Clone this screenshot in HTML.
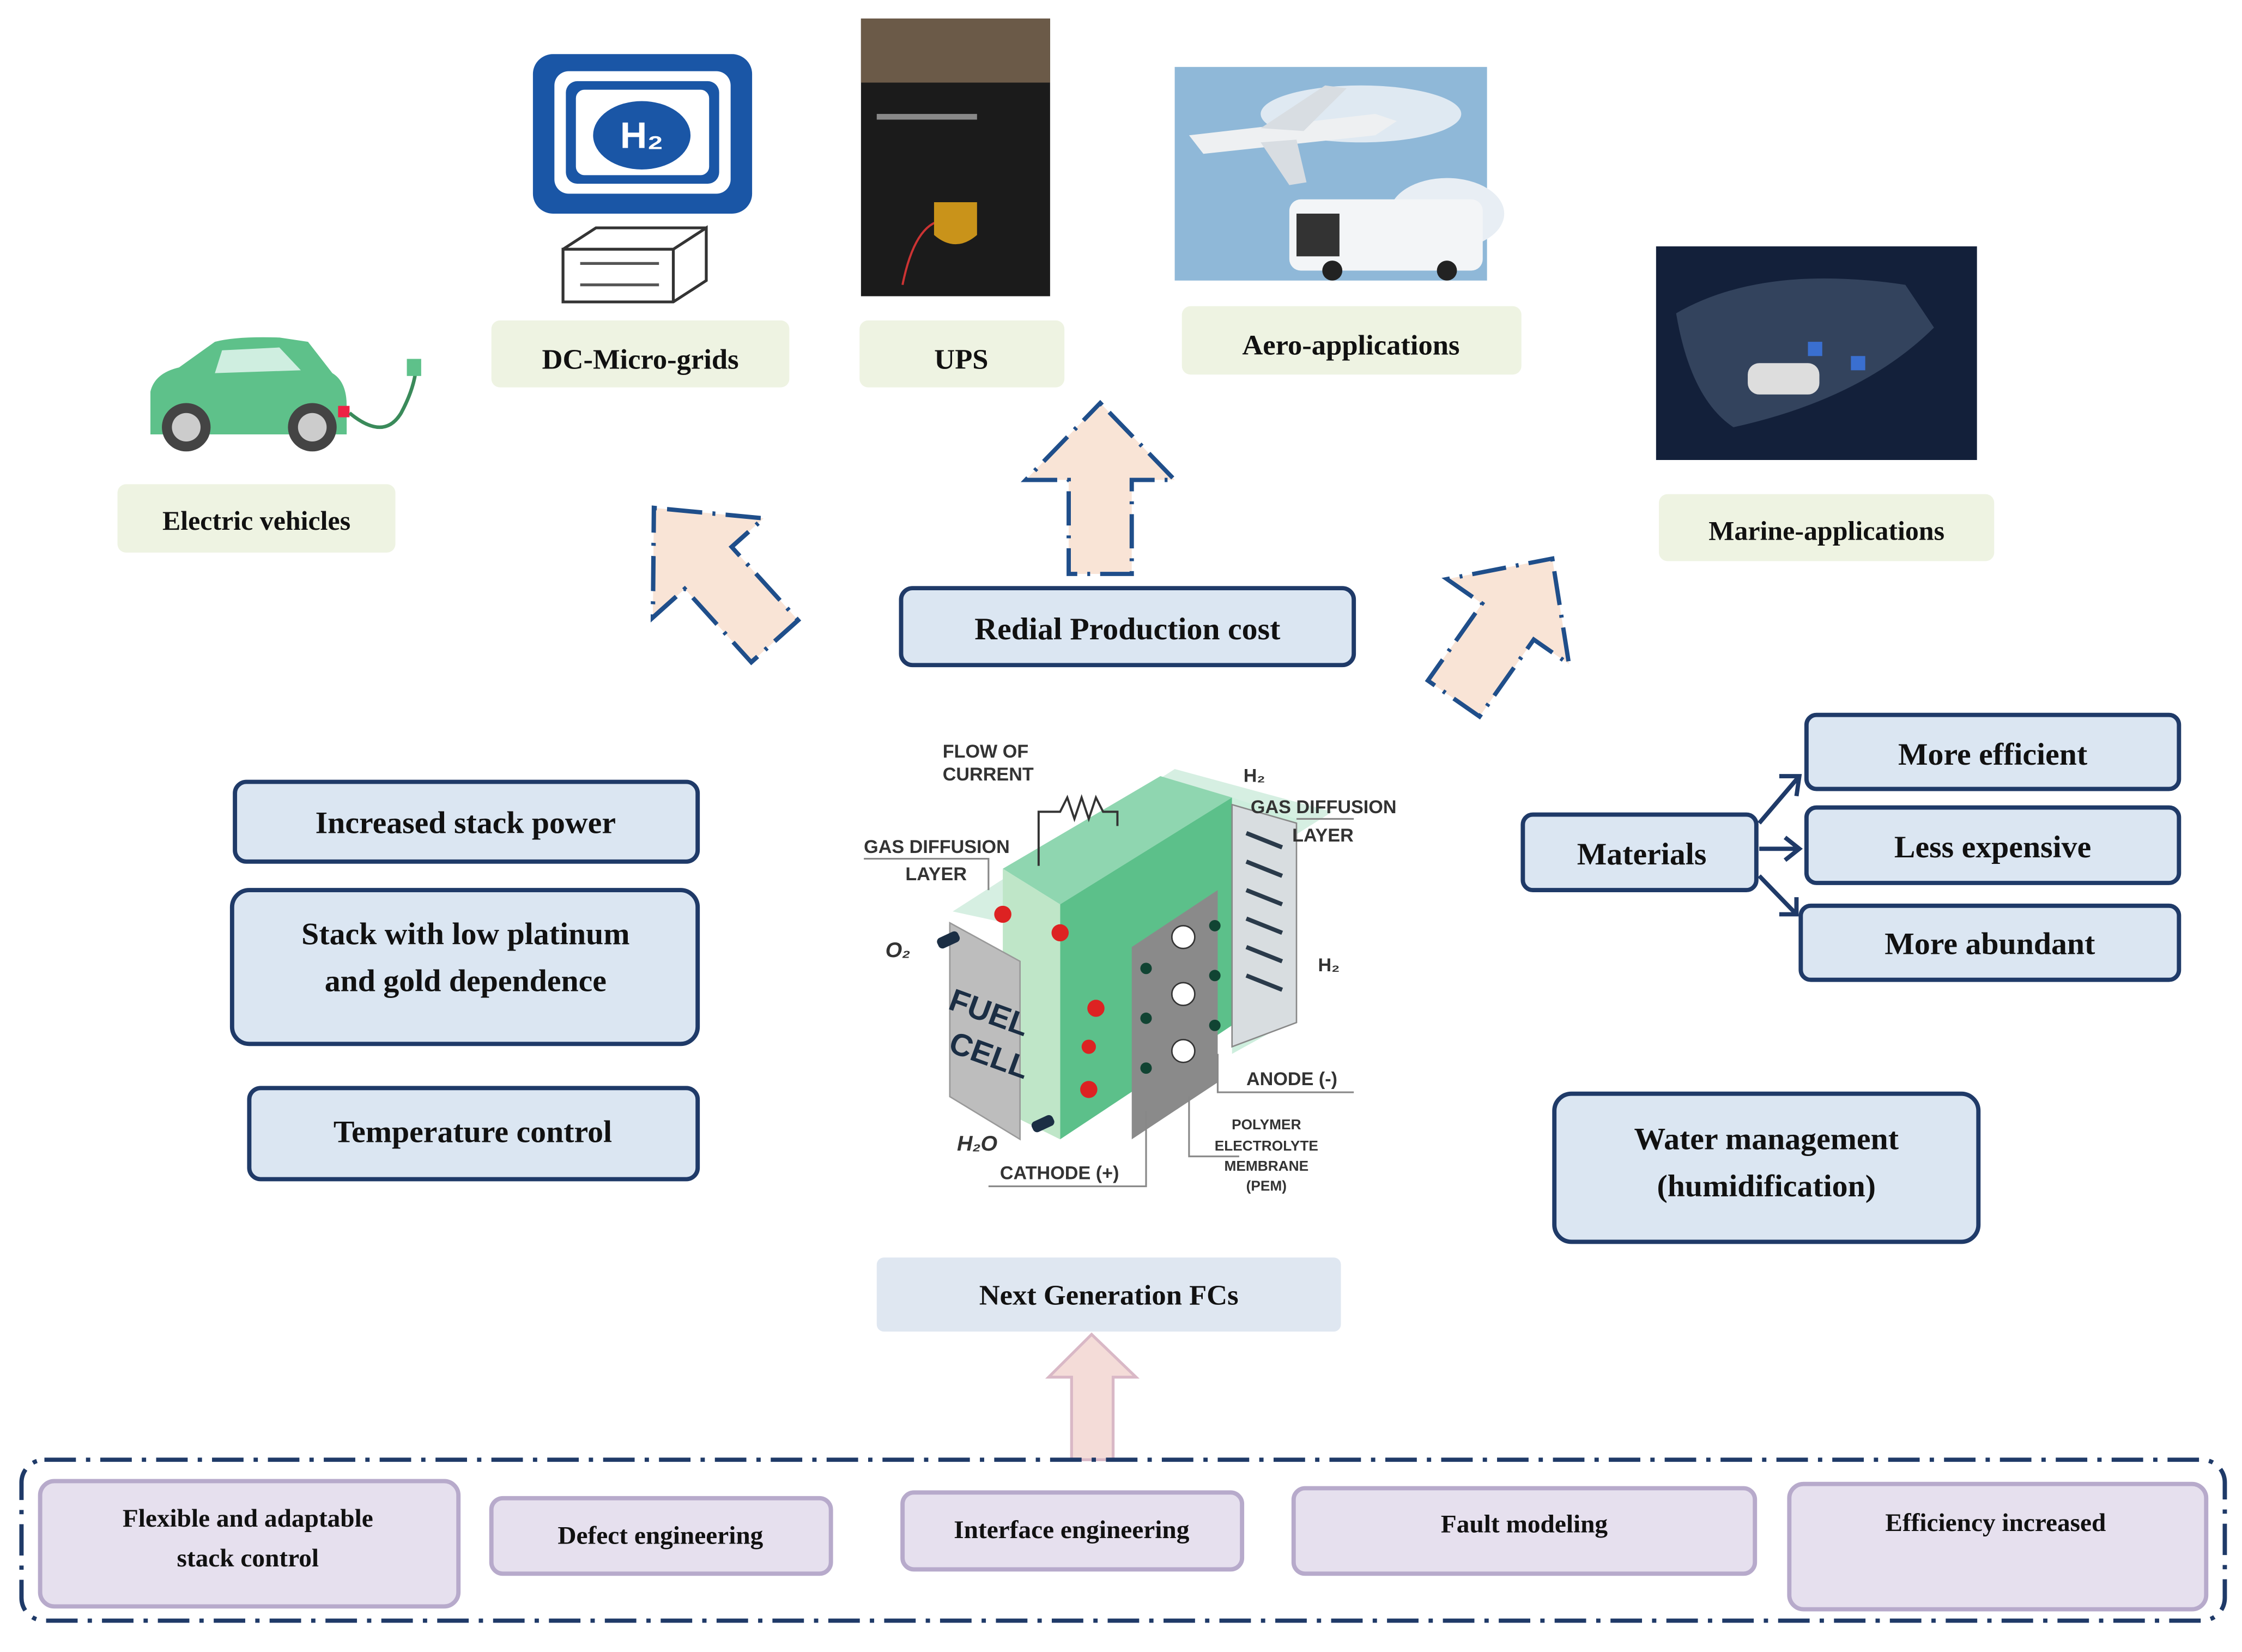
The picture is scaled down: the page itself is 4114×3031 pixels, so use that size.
<!DOCTYPE html>
<html><head><meta charset="utf-8"><style>
html,body{margin:0;padding:0;background:#fff}
svg{display:block}
text{font-family:"Liberation Serif",serif;font-weight:bold;fill:#111}
.s{font-family:"Liberation Sans",sans-serif;font-weight:bold;fill:#333}
</style></head><body>
<svg width="4114" height="3031" viewBox="0 0 1565 1160" preserveAspectRatio="none" xmlns="http://www.w3.org/2000/svg">
<rect width="1565" height="1160" fill="#fff"/>
<defs>
<polygon id="arr" points="0,-62 52,-8 22,-8 22,58 -22,58 -22,-8 -52,-8"/>
</defs>

<!-- car -->
<g>
<path d="M105,300 L105,275 Q108,262 125,258 L150,240 Q165,236 195,237 L215,240 L232,262 Q242,268 242,285 L242,305 L105,305 Z" fill="#5ec18a"/>
<path d="M155,246 L195,244 L210,260 L150,262 Z" fill="#cfeee0"/>
<circle cx="130" cy="300" r="17" fill="#444"/><circle cx="130" cy="300" r="10" fill="#ccc"/>
<circle cx="218" cy="300" r="17" fill="#444"/><circle cx="218" cy="300" r="10" fill="#ccc"/>
<rect x="236" y="285" width="8" height="8" fill="#e24"/>
<path d="M244,290 Q268,310 280,290 Q288,275 290,262" stroke="#3a8a5a" stroke-width="2.5" fill="none"/>
<rect x="284" y="252" width="10" height="12" fill="#5ec18a"/>
</g>
<rect x="82" y="340" width="194" height="48" rx="6" fill="#eef3e2"/>
<text x="179" y="372" font-size="19" text-anchor="middle">Electric vehicles</text>

<!-- H2 monitor -->
<rect x="372" y="38" width="153" height="112" rx="14" fill="#1a56a6"/>
<rect x="387" y="50" width="123" height="86" rx="10" fill="#fff"/>
<rect x="395" y="57" width="107" height="72" rx="8" fill="#1a56a6"/>
<rect x="402" y="63" width="93" height="60" rx="6" fill="#fff"/>
<ellipse cx="448" cy="95" rx="34" ry="24" fill="#1a56a6"/>
<text x="448" y="104" font-size="26" fill="#fff" text-anchor="middle" style="fill:#fff;font-family:'Liberation Sans',sans-serif">H₂</text>
<path d="M393,175 L470,175 L493,160 L493,197 L470,212 L393,212 Z" fill="#fff" stroke="#333" stroke-width="2"/>
<path d="M393,175 L416,160 L493,160" fill="none" stroke="#333" stroke-width="2"/>
<line x1="470" y1="175" x2="470" y2="212" stroke="#333" stroke-width="2"/>
<line x1="405" y1="185" x2="460" y2="185" stroke="#555" stroke-width="2"/>
<line x1="405" y1="200" x2="460" y2="200" stroke="#555" stroke-width="2"/>
<rect x="343" y="225" width="208" height="47" rx="6" fill="#eef3e2"/>
<text x="447" y="259" font-size="20" text-anchor="middle">DC-Micro-grids</text>

<!-- UPS -->
<rect x="601" y="13" width="132" height="195" fill="#1b1b1b"/>
<rect x="601" y="13" width="132" height="45" fill="#6b5a48"/>
<rect x="612" y="80" width="70" height="4" fill="#888"/>
<path d="M630,200 Q640,150 665,155" stroke="#c33" stroke-width="1.5" fill="none"/>
<path d="M652,142 L682,142 L682,165 Q667,178 652,165 Z" fill="#c9931a"/>
<rect x="600" y="225" width="143" height="47" rx="6" fill="#eef3e2"/>
<text x="671" y="259" font-size="20" text-anchor="middle">UPS</text>

<!-- Aero -->
<rect x="820" y="47" width="218" height="150" fill="#8fb8d8"/>
<ellipse cx="950" cy="80" rx="70" ry="20" fill="#dfe9f2"/>
<ellipse cx="1010" cy="150" rx="40" ry="25" fill="#e8eef4"/>
<path d="M830,95 L960,80 L975,85 L960,95 L840,108 Z" fill="#eef0f2"/>
<path d="M880,90 L925,60 L940,62 L910,92 Z" fill="#d8dde2"/>
<path d="M880,100 L900,130 L912,128 L905,98 Z" fill="#d8dde2"/>
<rect x="900" y="140" width="135" height="50" rx="8" fill="#f3f5f7"/>
<rect x="905" y="150" width="30" height="30" fill="#333"/>
<circle cx="930" cy="190" r="7" fill="#222"/><circle cx="1010" cy="190" r="7" fill="#222"/>
<rect x="825" y="215" width="237" height="48" rx="6" fill="#eef3e2"/>
<text x="943" y="249" font-size="20" text-anchor="middle">Aero-applications</text>

<!-- Marine -->
<rect x="1156" y="173" width="224" height="150" fill="#13203a"/>
<path d="M1170,220 Q1230,185 1330,200 L1350,230 Q1300,280 1210,300 Q1180,280 1170,220 Z" fill="#3c4c66" opacity="0.8"/>
<rect x="1220" y="255" width="50" height="22" rx="8" fill="#ddd"/>
<rect x="1262" y="240" width="10" height="10" fill="#3a6fd0"/><rect x="1292" y="250" width="10" height="10" fill="#3a6fd0"/>
<rect x="1158" y="347" width="234" height="47" rx="6" fill="#eef3e2"/>
<text x="1275" y="379" font-size="19" text-anchor="middle">Marine-applications</text>

<!-- arrows -->
<g fill="#f9e4d6" stroke="#1f4e8a" stroke-width="3" stroke-dasharray="2 7 24 7">
<use href="#arr" transform="translate(500,405) rotate(-42) scale(1,1.05)"/>
<use href="#arr" transform="translate(768,345)"/>
<use href="#arr" transform="translate(1048,443) rotate(35)"/>
</g>

<!-- center top box -->
<rect x="629" y="413" width="316" height="54" rx="8" fill="#dbe6f2" stroke="#1f3a68" stroke-width="3"/>
<text x="787" y="449" font-size="22" text-anchor="middle">Redial Production cost</text>

<!-- left boxes -->
<g fill="#dbe6f2" stroke="#1f3a68" stroke-width="3">
<rect x="164" y="549" width="323" height="56" rx="8"/>
<rect x="162" y="625" width="325" height="108" rx="12"/>
<rect x="174" y="764" width="313" height="64" rx="8"/>
<rect x="1063" y="572" width="163" height="53" rx="7"/>
<rect x="1261" y="502" width="260" height="52" rx="7"/>
<rect x="1261" y="567" width="260" height="53" rx="7"/>
<rect x="1257" y="636" width="264" height="52" rx="7"/>
<rect x="1085" y="768" width="296" height="104" rx="12"/>
</g>
<text x="325" y="585" font-size="22" text-anchor="middle">Increased stack power</text>
<text x="325" y="663" font-size="22" text-anchor="middle">Stack with low platinum</text>
<text x="325" y="696" font-size="22" text-anchor="middle">and gold dependence</text>
<text x="330" y="802" font-size="22" text-anchor="middle">Temperature control</text>
<text x="1146" y="607" font-size="22" text-anchor="middle">Materials</text>
<text x="1391" y="537" font-size="22" text-anchor="middle">More efficient</text>
<text x="1391" y="602" font-size="22" text-anchor="middle">Less expensive</text>
<text x="1389" y="670" font-size="22" text-anchor="middle">More abundant</text>
<text x="1233" y="807" font-size="22" text-anchor="middle">Water management</text>
<text x="1233" y="840" font-size="22" text-anchor="middle">(humidification)</text>
<g stroke="#1f3a68" stroke-width="3" fill="none">
<path d="M1228,578 L1256,545"/><path d="M1242,545 L1256,545 L1254,559"/>
<path d="M1228,596 L1256,596"/><path d="M1246,588 L1256,596 L1246,604"/>
<path d="M1228,615 L1254,642"/><path d="M1254,630 L1254,642 L1242,642"/>
</g>

<!-- fuel cell -->
<g>
<polygon points="665,640 820,540 930,570 780,665" fill="#d6efe2"/>
<polygon points="700,610 810,545 860,560 740,635" fill="#8fd6b0"/>
<polygon points="740,635 860,560 860,720 740,800" fill="#5cc08a"/>
<polygon points="790,665 850,625 850,760 790,800" fill="#8a8a8a"/>
<polygon points="700,610 740,635 740,800 700,780" fill="#bfe6c8"/>
<polygon points="860,560 905,575 905,715 860,740" fill="#cdeedd"/>
<polygon points="860,565 905,578 905,718 860,735" fill="#d8dde0" stroke="#888"/>
<g stroke="#2a3a4a" stroke-width="3">
<line x1="870" y1="585" x2="895" y2="595"/><line x1="870" y1="605" x2="895" y2="615"/><line x1="870" y1="625" x2="895" y2="635"/>
<line x1="870" y1="645" x2="895" y2="655"/><line x1="870" y1="665" x2="895" y2="675"/><line x1="870" y1="685" x2="895" y2="695"/>
</g>
<polygon points="663,648 712,675 712,800 663,770" fill="#bdbdbd" stroke="#999"/>
<text x="688" y="718" font-size="22" class="s" transform="rotate(20 688 718)" style="fill:#1b2e44" text-anchor="middle">FUEL</text>
<text x="688" y="748" font-size="22" class="s" transform="rotate(20 688 748)" style="fill:#1b2e44" text-anchor="middle">CELL</text>
<g fill="#d22">
<circle cx="700" cy="642" r="6"/><circle cx="740" cy="655" r="6"/><circle cx="765" cy="708" r="6"/><circle cx="760" cy="765" r="6"/><circle cx="760" cy="735" r="5"/>
</g>
<g fill="#143" ><circle cx="800" cy="680" r="4"/><circle cx="800" cy="715" r="4"/><circle cx="800" cy="750" r="4"/><circle cx="848" cy="650" r="4"/><circle cx="848" cy="685" r="4"/><circle cx="848" cy="720" r="4"/></g>
<g fill="#fff" stroke="#333"><circle cx="826" cy="658" r="8"/><circle cx="826" cy="698" r="8"/><circle cx="826" cy="738" r="8"/></g>
<rect x="654" y="656" width="16" height="8" rx="3" fill="#1b2e44" transform="rotate(-25 662 660)"/>
<rect x="720" y="785" width="16" height="8" rx="3" fill="#1b2e44" transform="rotate(-25 728 789)"/>
<path d="M725,608 L725,570 L740,570 L745,560 L750,575 L755,560 L760,575 L765,560 L770,570 L780,570 L780,580" stroke="#333" stroke-width="1.5" fill="none"/>
<text x="658" y="532" font-size="13" class="s">FLOW OF</text>
<text x="658" y="548" font-size="13" class="s">CURRENT</text>
<text x="603" y="599" font-size="13" class="s">GAS DIFFUSION</text>
<text x="632" y="618" font-size="13" class="s">LAYER</text>
<text x="873" y="571" font-size="13" class="s">GAS DIFFUSION</text>
<text x="902" y="591" font-size="13" class="s">LAYER</text>
<text x="868" y="549" font-size="13" class="s">H₂</text>
<text x="920" y="682" font-size="13" class="s">H₂</text>
<text x="618" y="672" font-size="15" class="s" font-style="italic">O₂</text>
<text x="668" y="808" font-size="15" class="s" font-style="italic">H₂O</text>
<text x="870" y="762" font-size="13" class="s">ANODE (-)</text>
<text x="698" y="828" font-size="13" class="s">CATHODE (+)</text>
<text x="884" y="793" font-size="10" class="s" text-anchor="middle">POLYMER</text>
<text x="884" y="808" font-size="10" class="s" text-anchor="middle">ELECTROLYTE</text>
<text x="884" y="822" font-size="10" class="s" text-anchor="middle">MEMBRANE</text>
<text x="884" y="836" font-size="10" class="s" text-anchor="middle">(PEM)</text>
<g stroke="#888" stroke-width="1.2" fill="none">
<path d="M603,603 L690,603 L690,625"/><path d="M945,575 L905,575"/><path d="M850,740 L850,767 L945,767"/><path d="M830,770 L830,812 L865,812"/><path d="M800,780 L800,833 L690,833"/>
</g>
</g>

<!-- Next gen -->
<rect x="612" y="883" width="324" height="52" rx="5" fill="#dfe7f1"/>
<text x="774" y="916" font-size="20" text-anchor="middle">Next Generation FCs</text>
<polygon points="762,937 793,967 777,967 777,1025 748,1025 748,967 732,967" fill="#f4dcd8" stroke="#d9b8c6" stroke-width="2"/>

<!-- bottom -->
<rect x="15" y="1025" width="1538" height="113" rx="16" fill="none" stroke="#1f3a68" stroke-width="3" stroke-dasharray="22 7 3 7"/>
<g fill="#e6e0ee" stroke="#b7aacb" stroke-width="3">
<rect x="28" y="1040" width="292" height="88" rx="10"/>
<rect x="343" y="1052" width="237" height="53" rx="8"/>
<rect x="630" y="1048" width="237" height="54" rx="8"/>
<rect x="903" y="1045" width="322" height="60" rx="8"/>
<rect x="1249" y="1042" width="291" height="88" rx="10"/>
</g>
<text x="173" y="1072" font-size="18" text-anchor="middle">Flexible and adaptable</text>
<text x="173" y="1100" font-size="18" text-anchor="middle">stack control</text>
<text x="461" y="1084" font-size="18" text-anchor="middle">Defect engineering</text>
<text x="748" y="1080" font-size="18" text-anchor="middle">Interface engineering</text>
<text x="1064" y="1076" font-size="18" text-anchor="middle">Fault modeling</text>
<text x="1393" y="1075" font-size="18" text-anchor="middle">Efficiency increased</text>
</svg>
</body></html>
